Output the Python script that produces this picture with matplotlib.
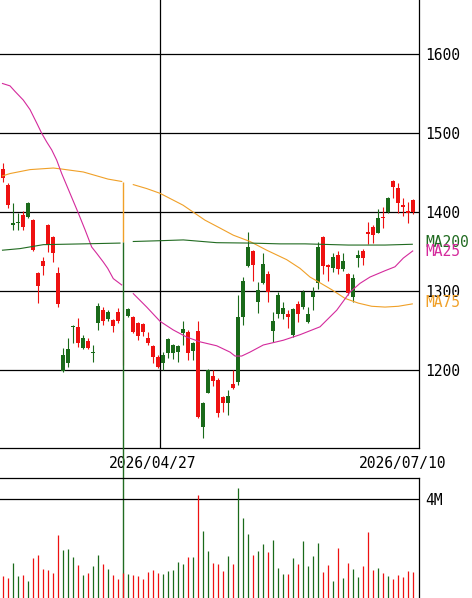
import numpy as np
import matplotlib
matplotlib.use('Agg')
import matplotlib.pyplot as plt
import matplotlib.transforms as mtransforms

plt.rcParams['font.family'] = ['DejaVu Sans Mono']

# daily candles (price)
opens = [1454.8, 1434.5, 1383.9, 1386.8, 1396.6, 1393.6, 1390.2, 1323.5, 1338.7, 1383.9,
         1368.3, 1322.7, 1199.5, 1209.6, 1255.2, 1254.4, 1227.8, 1237.1, 1221.5, 1259.5,
         1276.3, 1264.5, 1263.6, 1274.2, np.nan, 1268.7, 1267.8, 1259.5, 1258.2, 1240.5,
         1231.1, 1217.2, 1208.8, 1222.3, 1222.3, 1223.5, 1247.6, 1248.8, 1224.8, 1249.7,
         1128.6, 1171.7, 1192.8, 1187.7, 1166.6, 1159.0, 1182.6, 1185.6, 1267.8, 1332.4,
         1351.0, 1286.8, 1310.1, 1321.9, 1250.1, 1270.9, 1270.9, 1271.2, 1244.7, 1283.9,
         1279.7, 1261.5, 1293.1, 1310.1, 1368.3, 1332.8, 1329.1, 1345.9, 1327.8, 1321.9,
         1292.4, 1341.7, 1351.0, 1375.4, 1381.0, 1374.2, 1394.4, 1400.0, 1439.6, 1430.4,
         1409.2, 1402.0, 1415.5]
highs = [1462.0, 1436.7, 1411.4, 1398.7, 1402.0, 1413.4, 1391.1, 1324.8, 1343.0, 1384.8,
         1370.0, 1331.1, 1228.6, 1241.2, 1257.3, 1265.8, 1244.7, 1240.5, 1232.0, 1284.8,
         1280.5, 1276.0, 1264.9, 1278.4, 1251.0, 1278.4, 1268.7, 1261.0, 1260.2, 1248.8,
         1232.0, 1219.4, 1223.5, 1240.5, 1233.0, 1232.0, 1262.4, 1250.9, 1236.2, 1262.7,
         1160.2, 1201.2, 1200.3, 1190.0, 1167.5, 1175.0, 1200.4, 1295.3, 1318.5, 1375.4,
         1352.2, 1312.1, 1348.1, 1326.1, 1274.2, 1299.5, 1286.8, 1276.3, 1278.4, 1288.1,
         1301.6, 1280.5, 1305.0, 1362.8, 1370.0, 1334.5, 1348.8, 1351.4, 1348.1, 1323.5,
         1321.9, 1352.2, 1353.1, 1388.1, 1383.9, 1403.8, 1406.3, 1419.0, 1441.0, 1437.4,
         1417.7, 1413.4, 1416.8]
lows = [1438.0, 1405.0, 1377.6, 1377.6, 1377.6, 1392.4, 1351.4, 1284.8, 1320.6, 1350.1,
        1337.4, 1280.5, 1198.2, 1204.5, 1234.2, 1229.9, 1226.9, 1226.9, 1210.9, 1251.0,
        1257.3, 1262.0, 1248.8, 1260.0, 1207.0, 1267.0, 1246.8, 1238.3, 1243.4, 1232.0,
        1209.6, 1202.5, 1200.4, 1215.2, 1213.9, 1210.9, 1232.0, 1213.0, 1213.0, 1139.2,
        1113.9, 1170.9, 1180.1, 1141.2, 1147.6, 1143.4, 1176.0, 1181.4, 1257.3, 1330.4,
        1313.4, 1272.9, 1309.2, 1286.8, 1236.2, 1265.8, 1264.5, 1253.1, 1242.5, 1261.5,
        1277.2, 1259.5, 1276.3, 1302.5, 1321.9, 1313.4, 1324.8, 1321.9, 1326.1, 1295.0,
        1286.8, 1331.1, 1333.3, 1359.8, 1361.5, 1373.4, 1379.7, 1398.7, 1417.7, 1398.7,
        1395.3, 1386.0, 1397.8]
closes = [1443.4, 1409.2, 1386.8, 1386.8, 1381.7, 1412.1, 1352.2, 1306.7, 1332.0, 1358.6,
          1348.1, 1283.9, 1219.3, 1226.6, 1256.5, 1234.9, 1240.5, 1227.8, 1221.5, 1281.4,
          1262.8, 1273.4, 1256.0, 1262.8, np.nan, 1277.2, 1248.8, 1243.4, 1248.1, 1234.9,
          1216.4, 1203.8, 1219.3, 1239.2, 1232.0, 1230.7, 1251.9, 1221.5, 1234.2, 1141.2,
          1159.0, 1200.4, 1186.8, 1146.3, 1159.0, 1167.4, 1178.0, 1267.1, 1313.0, 1356.4,
          1333.3, 1301.6, 1334.1, 1299.5, 1262.8, 1295.3, 1278.4, 1267.8, 1277.2, 1271.2,
          1299.5, 1271.2, 1299.5, 1355.7, 1332.0, 1331.1, 1343.0, 1327.8, 1338.7, 1297.4,
          1316.4, 1345.9, 1341.7, 1372.5, 1371.2, 1392.4, 1392.4, 1417.7, 1432.4, 1411.4,
          1406.3, 1399.5, 1400.7]
# volume in millions of shares
volumes = [0.89, 0.82, 1.41, 0.89, 0.93, 0.70, 1.63, 1.74, 1.17, 1.13,
           1.02, 2.55, 1.94, 1.98, 1.67, 1.33, 0.94, 1.01, 1.31, 1.75,
           1.37, 1.17, 0.93, 0.77, 1.01, 0.96, 0.93, 0.89, 0.77, 1.05,
           1.14, 1.01, 0.96, 1.10, 1.13, 1.45, 1.37, 1.66, 1.66, 4.16,
           2.71, 1.90, 1.43, 1.37, 1.10, 1.70, 1.37, 4.46, 3.25, 2.59,
           1.74, 1.90, 2.18, 1.87, 2.34, 1.21, 0.97, 0.97, 1.62, 1.39,
           2.30, 1.29, 1.70, 2.22, 1.06, 1.33, 0.70, 2.02, 0.82, 1.43,
           1.17, 0.85, 1.29, 2.65, 1.13, 1.21, 1.01, 0.89, 0.77, 0.93,
           0.85, 1.09, 1.05]

# moving averages (day index, value); nan = break on the bad day
ma25_x = [0, 1.5, 2.5, 4.16, 5.5, 6.84, 7.84, 8.84, 9.84, 10.84, 11.84, 13.5, 15.16, 16.5,
          17.84, 18.84, 20.16, 21.04, 22.16, 23.84, 24, 26.16, 28.84, 31.5, 34.16, 36.84,
          39.5, 42.84, 45.5, 46.5, 47.84, 49.5, 52.16, 56.16, 59.5, 63.5, 66.84, 69.5, 71.5,
          73.5, 76.5, 78.5, 80.16, 82.04]
ma25_y = [1563, 1560, 1553, 1542, 1530, 1513, 1500, 1489, 1479, 1466, 1449, 1424, 1399, 1378,
          1356, 1348, 1337, 1329, 1316, 1308, np.nan, 1297, 1280, 1262, 1251, 1242,
          1236, 1231, 1223, 1218, 1218, 1223, 1232, 1238, 1245, 1255, 1276, 1299, 1310,
          1318, 1326, 1331, 1342, 1351]
ma75_x = [0, 1.5, 5.5, 10.16, 11.5, 16.16, 21.1, 23.84, 24, 26.16, 28.84, 31.5, 36.1, 40.5,
          43.5, 46.16, 49.5, 52.84, 56.84, 59.5, 61.5, 63.16, 65.84, 68.5, 71.16, 73.84,
          76.5, 79.16, 81.96]
ma75_y = [1446, 1449, 1454, 1456, 1455, 1451, 1442, 1439, np.nan, 1435, 1430, 1424, 1409, 1390,
          1380, 1371, 1363, 1352, 1340, 1329, 1318, 1312, 1302, 1291, 1285, 1281,
          1280, 1281, 1284]
ma200_x = [0, 3.5, 8.16, 16.16, 23.5, 24, 26.16, 31.5, 36.16, 42.84, 49.5, 55.5, 60.5,
           69.16, 76.5, 81.96]
ma200_y = [1352, 1354, 1359, 1360, 1361, np.nan, 1363, 1364, 1365, 1361.5, 1361, 1360, 1360,
           1358.5, 1358.5, 1359.5]

# the bad day: all averages drop straight to zero
bad_day = 24
bad_ma75 = 1438
bad_ma200 = 1362

date_ticks = [30, 80]
date_labels = ['2026/04/27', '2026/07/10']
price_ticks = [1200, 1300, 1400, 1500, 1600]

RED = '#ee1111'
GREEN = '#1a6a1a'
C25 = '#d42a9c'
C75 = '#f0a028'
C200 = '#216b21'

o = np.array(opens)
h = np.array(highs)
l = np.array(lows)
c = np.array(closes)
v = np.array(volumes)
x = np.arange(len(o))
up = c >= o
cols = np.where(up, GREEN, RED)

W, H = 472, 598
fig = plt.figure(figsize=(W / 100, H / 100), dpi=100)
ax = fig.add_axes([0, 150 / H, 419 / W, 448 / H])
axv = fig.add_axes([0, 0, 419 / W, 120 / H])
axv.set_facecolor('none')

# price panel
ax.set_xlim(-0.5, 83.3)
ax.set_ylim(1101.6, 1668.7)
for p in price_ticks:
    ax.axhline(p, color='black', lw=0.9, zorder=0)
ax.axvline(31.5, color='black', lw=0.9, zorder=0)

ax.vlines(x, l, h, colors=cols, lw=0.8, zorder=2)
body = np.abs(c - o)
body = np.where(body < 1.2, 1.2, body)
ok = ~np.isnan(o)
ax.bar(x[ok], body[ok], bottom=np.minimum(o, c)[ok], width=0.8,
       color=cols[ok], linewidth=0, zorder=3)

ax.plot(ma75_x, ma75_y, color=C75, lw=0.8, zorder=4)
ax.plot(ma25_x, ma25_y, color=C25, lw=0.8, zorder=4)
ax.plot(ma200_x, ma200_y, color=C200, lw=0.8, zorder=4)
# vertical drop of the averages on the bad day (runs down through the volume panel)
ax.vlines(bad_day, bad_ma200, bad_ma75, color=C75, lw=1.0, zorder=5, clip_on=False)
ax.vlines(bad_day, 0, bad_ma200, color=C200, lw=1.0, zorder=6, clip_on=False)

for s in ['top', 'left']:
    ax.spines[s].set_visible(False)
for s in ['right', 'bottom']:
    ax.spines[s].set_linewidth(0.9)
ax.yaxis.tick_right()
ax.set_yticks(price_ticks)
ax.tick_params(axis='y', length=0, pad=4.5, labelsize=10.5)
ax.set_xticks(date_ticks, labels=date_labels)
ax.tick_params(axis='x', length=0, pad=6, labelsize=10.5)

tr = mtransforms.blended_transform_factory(ax.transAxes, ax.transData)
ax.text(1.015, ma200_y[-1] + 2, 'MA200', color=C200, transform=tr, va='center',
        fontsize=10.5, clip_on=False)
ax.text(1.015, ma25_y[-1] - 1, 'MA25', color=C25, transform=tr, va='center',
        fontsize=10.5, clip_on=False)
ax.text(1.015, ma75_y[-1] + 2, 'MA75', color=C75, transform=tr, va='center',
        fontsize=10.5, clip_on=False)

# volume panel
axv.set_xlim(-0.5, 83.3)
axv.set_ylim(0, 4.85)
axv.axhline(4, color='black', lw=0.9, zorder=0)
axv.vlines(x, 0, v, colors=cols, lw=0.9)
for s in ['bottom', 'left']:
    axv.spines[s].set_visible(False)
for s in ['right', 'top']:
    axv.spines[s].set_linewidth(0.9)
axv.set_xticks([])
axv.yaxis.tick_right()
axv.set_yticks([4], labels=['4M'])
axv.tick_params(axis='y', length=0, pad=4.5, labelsize=10.5)

fig.savefig('out.png', dpi=100)
